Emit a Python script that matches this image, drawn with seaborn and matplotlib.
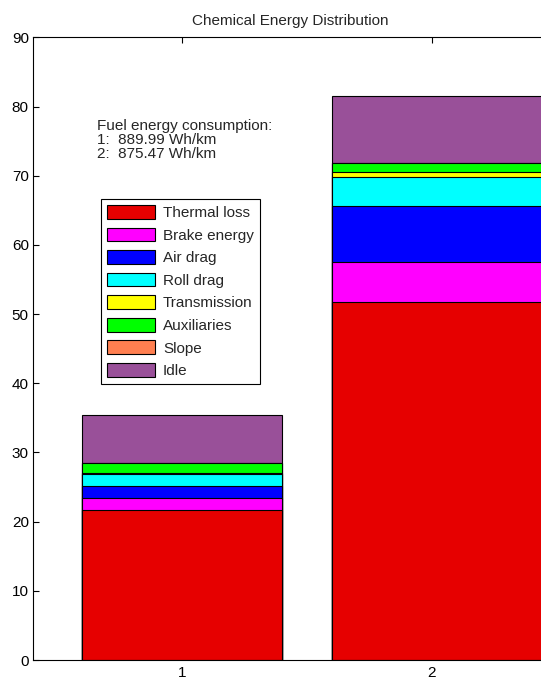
import matplotlib
matplotlib.use("Agg")
import matplotlib.pyplot as plt
from matplotlib.patches import Patch
import numpy as np
import pandas as pd
import seaborn as sns

# Energy shares per configuration (stacked from bottom to top)
configs = ["1", "2"]
components = ["Thermal loss", "Brake energy", "Air drag", "Roll drag",
              "Transmission", "Auxiliaries", "Slope", "Idle"]
thermal_loss = [21.73, 51.79]
brake_energy = [1.73, 5.78]
air_drag = [1.74, 8.10]
roll_drag = [1.64, 4.15]
transmission = [0.23, 0.72]
auxiliaries = [1.36, 1.35]
slope = [0.0, 0.0]
idle = [7.02, 9.64]
colors = ["#E60000", "#FF00FF", "#0000FF", "#00FFFF",
          "#FFFF00", "#00FF00", "#FF7F50", "#995099"]
fuel_consumption = [889.99, 875.47]

sns.set_theme(style="white")
plt.rcParams["font.family"] = ["Liberation Sans", "DejaVu Sans"]
plt.rcParams["font.size"] = 11

series = [thermal_loss, brake_energy, air_drag, roll_drag,
          transmission, auxiliaries, slope, idle]
cumulative = np.cumsum(np.array(series), axis=0)

fig = plt.figure(figsize=(5.41, 6.8), dpi=100)
ax = fig.add_axes([0.061, 0.0294, 0.95, 0.9157])

# Draw the stack top-down so each lower segment covers the one above it
for name, cum, col in reversed(list(zip(components, cumulative, colors))):
    df = pd.DataFrame({"config": configs, "value": cum})
    sns.barplot(data=df, x="config", y="value", color=col, saturation=1,
                edgecolor="black", linewidth=0.8, width=0.8, ax=ax)

# The second stack runs on past the right edge of the plot area
for p in ax.patches:
    if p.get_x() > 0.5:
        p.set_width(1.0)

ax.set_xlim(-0.595, 1.46)
ax.set_ylim(0, 90)
ax.set_yticks(np.arange(0, 91, 10))
ax.set_xlabel("")
ax.set_ylabel("")
ax.set_title("Chemical Energy Distribution", fontsize=11, pad=8.6)
for s in ax.spines.values():
    s.set_color("black")
    s.set_linewidth(0.8)
ax.tick_params(direction="in", length=4.3, width=0.8, colors="black",
               labelsize=11, top=True, right=True, bottom=True, left=True)
ax.tick_params(axis="x", pad=4.0)
ax.tick_params(axis="y", pad=3)

text = "Fuel energy consumption:\n" + "\n".join(
    f"{c}:  {v:.2f} Wh/km" for c, v in zip(configs, fuel_consumption))
fig.text(97 / 541, 1 - 119 / 680, text, ha="left", va="top",
         fontsize=11, linespacing=1.0)

handles = [Patch(facecolor=c, edgecolor="black", linewidth=0.8) for c in colors]
leg = ax.legend(handles, components, loc="upper left",
                bbox_to_anchor=(101 / 541, 1 - 199 / 680),
                bbox_transform=fig.transFigure, borderaxespad=0,
                fancybox=False, framealpha=1, edgecolor="black",
                handlelength=3.15, handleheight=1.0, labelspacing=0.49,
                handletextpad=0.5, borderpad=0.4, fontsize=11)
leg.get_frame().set_linewidth(0.8)

fig.savefig("out.png", dpi=100)
